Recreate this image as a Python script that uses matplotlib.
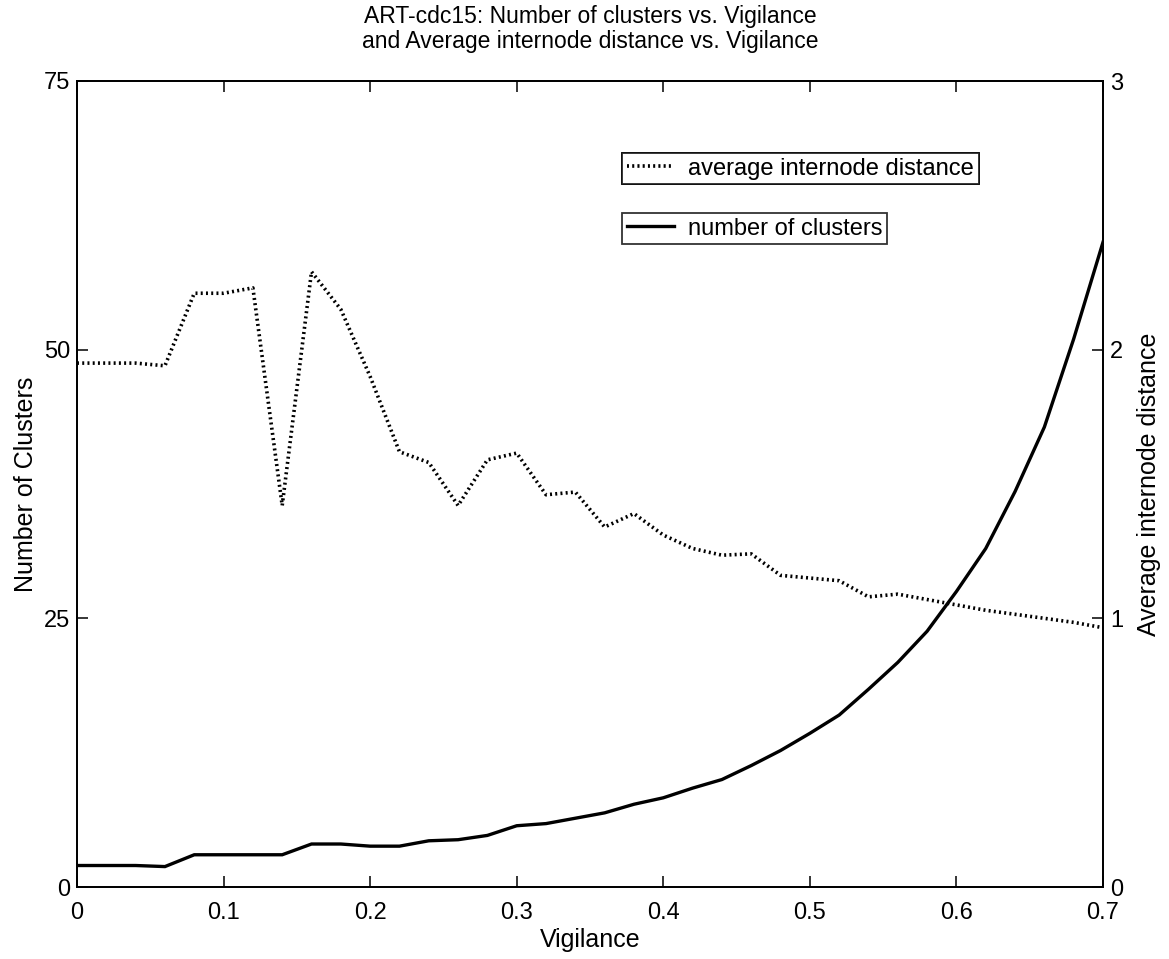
import matplotlib
matplotlib.use("Agg")
import matplotlib.pyplot as plt
from matplotlib.lines import Line2D

plt.rcParams['font.family'] = ['Liberation Sans', 'DejaVu Sans']

vigilance = [0.00, 0.02, 0.04, 0.06, 0.08, 0.10, 0.12, 0.14, 0.16, 0.18,
             0.20, 0.22, 0.24, 0.26, 0.28, 0.30, 0.32, 0.34, 0.36, 0.38,
             0.40, 0.42, 0.44, 0.46, 0.48, 0.50, 0.52, 0.54, 0.56, 0.58,
             0.60, 0.62, 0.64, 0.66, 0.68, 0.70]
n_clusters = [2.0, 2.0, 2.0, 1.9, 3.0, 3.0, 3.0, 3.0, 4.0, 4.0,
              3.8, 3.8, 4.3, 4.4, 4.8, 5.7, 5.9, 6.4, 6.9, 7.7,
              8.3, 9.2, 10.0, 11.3, 12.7, 14.3, 16.0, 18.4, 20.9, 23.8,
              27.5, 31.5, 36.8, 42.8, 51.0, 60.0]
avg_dist = [1.95, 1.95, 1.95, 1.94, 2.21, 2.21, 2.23, 1.42, 2.29, 2.15,
            1.90, 1.62, 1.58, 1.42, 1.59, 1.615, 1.46, 1.47, 1.34, 1.39,
            1.31, 1.26, 1.235, 1.24, 1.16, 1.15, 1.14, 1.08, 1.09, 1.07,
            1.05, 1.03, 1.015, 1.0, 0.985, 0.965]

left_ticks = [0, 25, 50, 75]
right_ticks = [0, 1, 2, 3]
x_ticks = [0, 0.1, 0.2, 0.3, 0.4, 0.5, 0.6, 0.7]
x_tick_labels = ['0', '0.1', '0.2', '0.3', '0.4', '0.5', '0.6', '0.7']

fig = plt.figure(figsize=(11.69, 9.59), dpi=100)
W, H = 1169, 959
ax = fig.add_axes([77 / W, 1 - 887 / H, (1103 - 77) / W, (887 - 81) / H])
ax2 = ax.twinx()

fs = 17
dot_style = (0, (0.55, 0.9))
ax.plot(vigilance, n_clusters, color='black', lw=2.4, solid_joinstyle='miter')
ax2.plot(vigilance, avg_dist, color='black', lw=2.6, linestyle=dot_style)

ax.set_xlim(0, 0.7)
ax.set_ylim(0, 75)
ax2.set_ylim(0, 3)
ax.set_xticks(x_ticks)
ax.set_xticklabels(x_tick_labels)
ax.set_yticks(left_ticks)
ax2.set_yticks(right_ticks)

for a in (ax, ax2):
    for s in a.spines.values():
        s.set_linewidth(1.3)
ax.tick_params(direction='in', length=8, width=1.1, labelsize=fs, top=True,
               pad=5)
ax.tick_params(axis='x', pad=11)
ax2.tick_params(direction='in', length=8, width=1.1, labelsize=fs, pad=5)

ax.set_xlabel('Vigilance', fontsize=fs + 1, labelpad=3)
ax.set_ylabel('Number of Clusters', fontsize=fs + 1, labelpad=4)
ax2.set_ylabel('Average internode distance', fontsize=fs + 1, labelpad=10)

ax.set_title('ART-cdc15: Number of clusters vs. Vigilance\n'
             'and Average internode distance vs. Vigilance',
             fontsize=16.5, pad=24, linespacing=1.1)

h1 = Line2D([], [], color='black', lw=2.6, linestyle=dot_style)
h2 = Line2D([], [], color='black', lw=2.4)
leg1 = ax.legend([h1], ['average internode distance'],
                 loc='upper left',
                 bbox_to_anchor=((622 - 77) / 1026, 1 - (153 - 81) / 806),
                 fontsize=fs, frameon=True, fancybox=False, edgecolor='black',
                 borderpad=0.2, handlelength=2.0, handletextpad=0.6,
                 borderaxespad=0)
leg1.get_frame().set_linewidth(1.3)
ax.add_artist(leg1)
leg2 = ax2.legend([h2], ['number of clusters'],
                  loc='upper left',
                  bbox_to_anchor=((622 - 77) / 1026, 1 - (213 - 81) / 806),
                  fontsize=fs, frameon=True, fancybox=False, edgecolor='black',
                  borderpad=0.2, handlelength=2.0, handletextpad=0.6,
                  borderaxespad=0)
leg2.get_frame().set_linewidth(1.3)

fig.savefig('out.png', dpi=100)
